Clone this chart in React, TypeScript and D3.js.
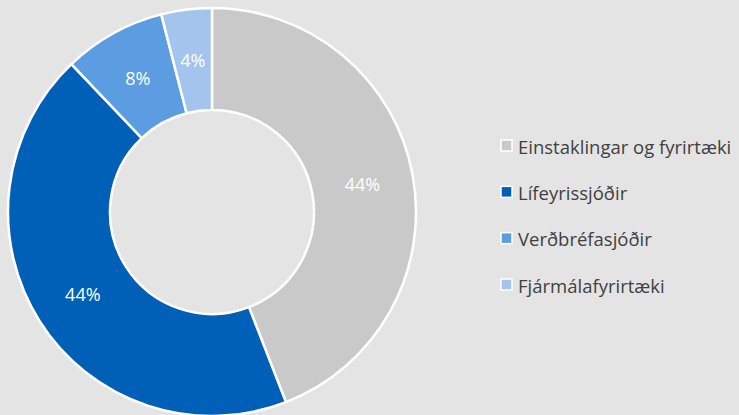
import React from "react";
import * as d3 from "d3";

const categories = ["Einstaklingar og fyrirtæki", "Lífeyrissjóðir", "Verðbréfasjóðir", "Fjármálafyrirtæki"];
const values = [44.1, 43.8, 8.1, 4.0];
const labels = ["44%", "44%", "8%", "4%"];
const colors = ["#c9c9c9", "#0060b8", "#5b9de0", "#a3c5ed"];

export default function App() {
  const W = 739, H = 415;
  const cx = 212, cy = 212, R = 204, r = 102;
  const pie = d3.pie<number>().sort(null).value((d) => d)(values);
  const arc = d3.arc<d3.PieArcDatum<number>>().innerRadius(r).outerRadius(R);
  const labelArc = d3.arc<d3.PieArcDatum<number>>().innerRadius((r + R) / 2).outerRadius((r + R) / 2);
  const legendY = d3.scaleLinear().domain([0, 3]).range([146, 285]);
  const font = "'Open Sans', sans-serif";
  return (
    <svg width={W} height={H} style={{ position: "absolute", left: 0, top: 0, background: "#e4e4e4" }}>
      <rect width={W} height={H} fill="#e4e4e4" />
      <g transform={`translate(${cx},${cy})`}>
        {pie.map((p, i) => (
          <path key={i} d={arc(p) || ""} fill={colors[i]} stroke="#ffffff" strokeWidth={2.5} />
        ))}
        {pie.map((p, i) => {
          const [x, y] = labelArc.centroid(p);
          return (
            <text key={i} x={x} y={y} textAnchor="middle" dominantBaseline="central" fill="#ffffff" fontFamily={font} fontSize={18}>
              {labels[i]}
            </text>
          );
        })}
      </g>
      {categories.map((c, i) => (
        <g key={c} transform={`translate(0,${legendY(i)})`}>
          <rect x={501} y={-6} width={11} height={11} fill={colors[i]} stroke="#ffffff" strokeWidth={1.5} />
          <text x={518} y={0} dominantBaseline="central" fill="#404040" fontFamily={font} fontSize={18.5}>
            {c}
          </text>
        </g>
      ))}
    </svg>
  );
}
